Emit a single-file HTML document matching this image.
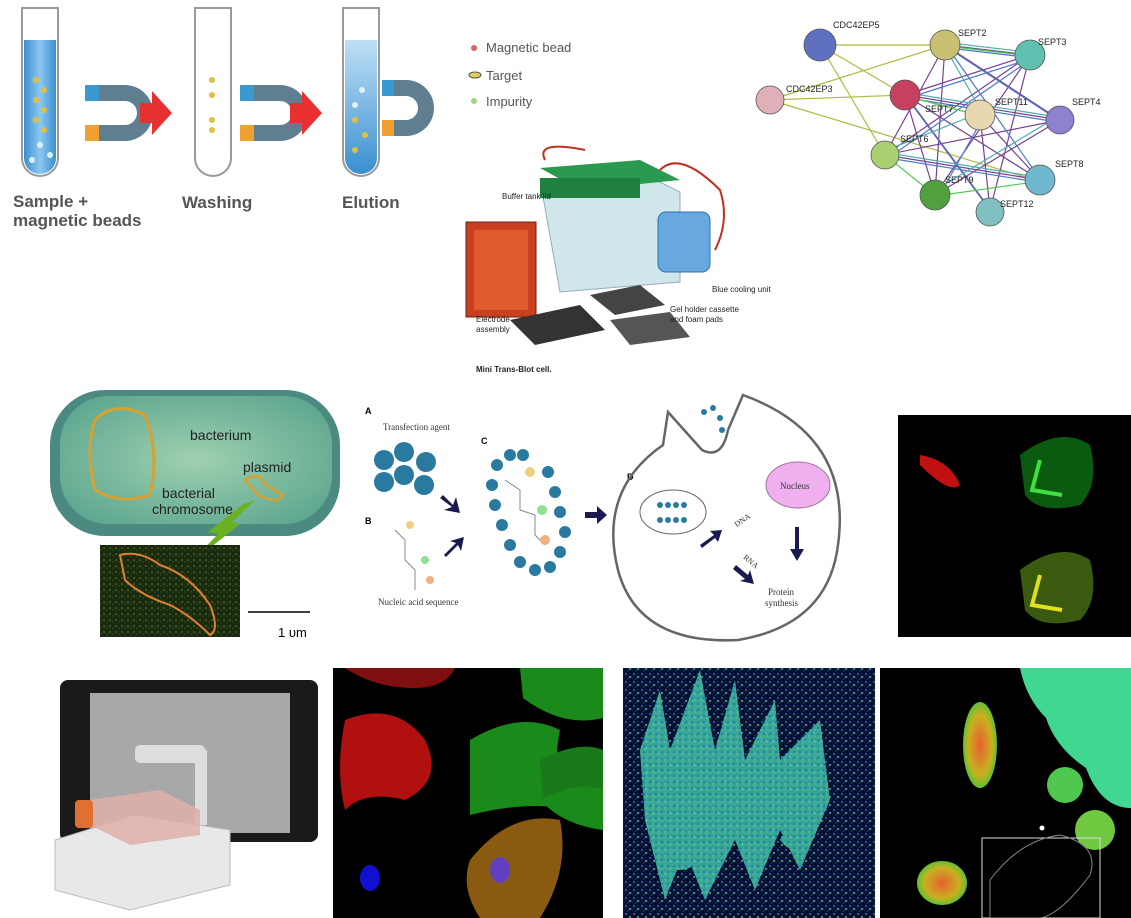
<!DOCTYPE html>
<html><head><meta charset="utf-8"><style>
html,body{margin:0;padding:0;background:#fff;}
svg{display:block;font-family:"Liberation Sans",sans-serif;}
</style></head><body>
<svg width="1131" height="918" viewBox="0 0 1131 918" xmlns="http://www.w3.org/2000/svg">
<defs>
<linearGradient id="tube" x1="0" x2="1"><stop offset="0" stop-color="#3a8fd0"/><stop offset="0.5" stop-color="#8cc8f0"/><stop offset="1" stop-color="#3a8fd0"/></linearGradient>
<linearGradient id="tube2" x1="0" x2="0" y1="0" y2="1"><stop offset="0" stop-color="#bfe0f5"/><stop offset="1" stop-color="#3a8fd0"/></linearGradient>
<radialGradient id="bact" cx="0.5" cy="0.5" r="0.6"><stop offset="0" stop-color="#9fd0b0"/><stop offset="1" stop-color="#5fa890"/></radialGradient>
<radialGradient id="rg" cx="0.5" cy="0.5" r="0.5"><stop offset="0" stop-color="#e86030"/><stop offset="0.7" stop-color="#c8b020"/><stop offset="1" stop-color="#60c030"/></radialGradient>
<pattern id="noise" width="6" height="6" patternUnits="userSpaceOnUse"><rect width="6" height="6" fill="#1a2a10"/><circle cx="2" cy="2" r="0.8" fill="#6a8a20"/><circle cx="5" cy="4" r="0.6" fill="#4a6a18"/></pattern>
<pattern id="heat" width="8" height="8" patternUnits="userSpaceOnUse"><rect width="8" height="8" fill="#0a1030"/><circle cx="2" cy="2" r="1" fill="#2070d0"/><circle cx="6" cy="5" r="1" fill="#40c0a0"/><circle cx="4" cy="7" r="0.7" fill="#2040a0"/></pattern>
<pattern id="heat2" width="6" height="6" patternUnits="userSpaceOnUse"><rect width="6" height="6" fill="#40c0a8"/><circle cx="2" cy="2" r="1" fill="#2080d0"/><circle cx="5" cy="4" r="0.8" fill="#90e070"/></pattern>
</defs>

<!-- Magnetic beads panel -->
<g>
 <path d="M22 8 h36 v150 a18 18 0 0 1 -36 0z" fill="#fff" stroke="#999" stroke-width="2"/>
 <path d="M24 40 h32 v118 a16 16 0 0 1 -32 0z" fill="url(#tube)"/>
 <path d="M195 8 h36 v150 a18 18 0 0 1 -36 0z" fill="#fff" stroke="#999" stroke-width="2"/>
 <path d="M343 8 h36 v150 a18 18 0 0 1 -36 0z" fill="#fff" stroke="#999" stroke-width="2"/>
 <path d="M345 40 h32 v118 a16 16 0 0 1 -32 0z" fill="url(#tube2)"/>
 <g fill="#5f7f90"><path d="M85 85 h40 a28 28 0 0 1 0 56 h-40 v-16 h40 a12 12 0 0 0 0 -24 h-40z"/></g>
 <rect x="85" y="85" width="14" height="16" fill="#3a9ad0"/><rect x="85" y="125" width="14" height="16" fill="#f0a030"/>
 <path d="M140 103 h12 v-12 l20 22 l-20 22 v-12 h-12z" fill="#e83030"/>
 <g fill="#5f7f90"><path d="M240 85 h40 a28 28 0 0 1 0 56 h-40 v-16 h40 a12 12 0 0 0 0 -24 h-40z"/></g>
 <rect x="240" y="85" width="14" height="16" fill="#3a9ad0"/><rect x="240" y="125" width="14" height="16" fill="#f0a030"/>
 <path d="M290 103 h12 v-12 l20 22 l-20 22 v-12 h-12z" fill="#e83030"/>
 <g fill="#5f7f90"><path d="M382 80 h24 a28 28 0 0 1 0 56 h-24 v-16 h24 a12 12 0 0 0 0 -24 h-24z"/></g>
 <rect x="382" y="80" width="12" height="16" fill="#3a9ad0"/><rect x="382" y="120" width="12" height="16" fill="#f0a030"/>
 <g fill="#e0c040"><circle cx="36" cy="80" r="3"/><circle cx="44" cy="90" r="3"/><circle cx="36" cy="100" r="3"/><circle cx="44" cy="110" r="3"/><circle cx="36" cy="120" r="3"/><circle cx="44" cy="130" r="3"/>
 <circle cx="212" cy="80" r="3"/><circle cx="212" cy="95" r="3"/><circle cx="212" cy="120" r="3"/><circle cx="212" cy="130" r="3"/>
 <circle cx="355" cy="120" r="3"/><circle cx="365" cy="135" r="3"/><circle cx="355" cy="150" r="3"/></g>
 <g fill="#e0f0f8"><circle cx="40" cy="145" r="3"/><circle cx="50" cy="155" r="3"/><circle cx="32" cy="160" r="3"/><circle cx="362" cy="90" r="3"/><circle cx="355" cy="105" r="3"/></g>
 <text x="13" y="207" font-size="17" font-weight="bold" fill="#555">Sample +</text>
 <text x="13" y="226" font-size="17" font-weight="bold" fill="#555">magnetic beads</text>
 <text x="182" y="208" font-size="17" font-weight="bold" fill="#555">Washing</text>
 <text x="342" y="208" font-size="17" font-weight="bold" fill="#555">Elution</text>
 <circle cx="474" cy="48" r="3" fill="#e06060"/><text x="486" y="52" font-size="13" fill="#555">Magnetic bead</text>
 <ellipse cx="475" cy="75" rx="6" ry="3" fill="#e0d060" stroke="#555"/><text x="486" y="80" font-size="13" fill="#555">Target</text>
 <circle cx="474" cy="101" r="3" fill="#a0d080"/><text x="486" y="106" font-size="13" fill="#555">Impurity</text>
</g>

<!-- Protein network -->
<g stroke-width="1.2" fill="none" opacity="0.85">
 <g stroke="#a0b020"><path d="M820 45 L905 95 M820 45 L945 45 M770 100 L945 45 M770 100 L1035 180 M820 45 L885 155 M770 100 L905 95"/></g>
 <g stroke="#602080"><path d="M945 45 L1030 55 M945 45 L1060 120 M905 95 L1060 120 M905 95 L1040 180 M945 45 L935 195 M1030 55 L990 210 M980 115 L1040 180 M885 155 L1030 55 M885 155 L1060 120 M935 195 L1030 55 M905 95 L990 210 M905 95 L1030 55 M885 155 L1040 180 M935 195 L1060 120 M945 45 L885 155 M980 115 L990 210 M905 95 L935 195"/></g>
 <g stroke="#3060c0"><path d="M948 48 L1033 58 M948 48 L1063 123 M908 98 L1063 123 M888 158 L1043 183 M938 198 L983 118 M908 98 L993 213 M908 98 L1033 58 M888 158 L1033 58 M948 48 L1043 183"/></g>
 <g stroke="#30a0a0"><path d="M942 42 L1027 52 M902 92 L1057 117 M882 152 L1037 177 M932 192 L1057 117 M942 42 L982 112 M882 152 L982 112"/></g>
 <g stroke="#30c030"><path d="M946 46 L1031 56 M906 96 L981 116 M886 156 L936 196 M936 196 L1041 181"/></g>
</g>
<g stroke="#555" stroke-width="0.8">
 <circle cx="820" cy="45" r="16" fill="#6070c0"/><circle cx="770" cy="100" r="14" fill="#e0b0b8"/>
 <circle cx="945" cy="45" r="15" fill="#c8c070"/><circle cx="1030" cy="55" r="15" fill="#60c0b0"/>
 <circle cx="905" cy="95" r="15" fill="#c84060"/><circle cx="980" cy="115" r="15" fill="#e8d8b0"/>
 <circle cx="1060" cy="120" r="14" fill="#9080d0"/><circle cx="885" cy="155" r="14" fill="#a8d070"/>
 <circle cx="935" cy="195" r="15" fill="#50a040"/><circle cx="1040" cy="180" r="15" fill="#70b8d0"/>
 <circle cx="990" cy="212" r="14" fill="#80c0c0"/>
</g>
<g font-size="9" fill="#222">
 <text x="833" y="28">CDC42EP5</text><text x="786" y="92">CDC42EP3</text><text x="958" y="36">SEPT2</text>
 <text x="1038" y="45">SEPT3</text><text x="925" y="112">SEPT7</text><text x="995" y="105">SEPT11</text>
 <text x="1072" y="105">SEPT4</text><text x="900" y="142">SEPT6</text><text x="945" y="183">SEPT9</text>
 <text x="1055" y="167">SEPT8</text><text x="1000" y="207">SEPT12</text>
</g>

<!-- Blot cell -->
<g>
 <path d="M540 180 l100 -8 l40 20 l0 90 l-120 10z" fill="#cfe6ea" stroke="#9ab" />
 <path d="M540 168 l100 -8 l40 20 l-100 10z" fill="#2a9a50"/>
 <rect x="540" y="178" width="100" height="20" fill="#1f8040"/>
 <rect x="466" y="222" width="70" height="95" fill="#c84020" stroke="#702010"/>
 <rect x="474" y="230" width="54" height="80" fill="#e05a30"/>
 <rect x="658" y="212" width="52" height="60" rx="8" fill="#68a8e0" stroke="#3070b0"/>
 <path d="M510 320 l70 -15 l25 25 l-70 15z" fill="#333"/>
 <path d="M590 295 l50 -10 l25 20 l-50 10z" fill="#444"/>
 <path d="M610 320 l60 -8 l20 25 l-60 8z" fill="#555"/>
 <path d="M545 160 q-10 -20 40 -10 M660 170 q20 -20 60 20 q10 30 -5 60" stroke="#c03020" stroke-width="2" fill="none"/>
 <g font-size="8" fill="#222"><text x="502" y="199">Buffer tank lid</text><text x="712" y="292">Blue cooling unit</text>
 <text x="670" y="312">Gel holder cassette</text><text x="670" y="322">and foam pads</text>
 <text x="476" y="322">Electrode</text><text x="476" y="332">assembly</text>
 <text x="476" y="372" font-weight="bold">Mini Trans-Blot cell.</text></g>
</g>

<!-- Bacterium -->
<g>
 <rect x="50" y="390" width="290" height="146" rx="55" fill="#4a8a80"/>
 <rect x="60" y="396" width="272" height="128" rx="48" fill="url(#bact)"/>
 <path d="M95 420 q20 -20 50 -5 q15 40 5 80 q-30 10 -55 -5 q-10 -40 0 -70z" fill="none" stroke="#d8a030" stroke-width="3"/>
 <path d="M245 480 q15 -10 20 5 q10 5 18 10 q-5 10 -25 0z" fill="none" stroke="#d8a030" stroke-width="2.5"/>
 <text x="190" y="440" font-size="14" fill="#222">bacterium</text>
 <text x="243" y="472" font-size="14" fill="#222">plasmid</text>
 <text x="162" y="498" font-size="14" fill="#222">bacterial</text>
 <text x="152" y="514" font-size="14" fill="#222">chromosome</text>
 <path d="M255 500 L232 522 L240 524 L185 568 L218 534 L208 532 L242 505z" fill="#6ab020"/>
 <rect x="100" y="545" width="140" height="92" fill="url(#noise)"/>
 <path d="M120 555 q20 -5 40 10 q30 10 50 40 q10 25 0 30 q-20 -20 -40 -30 q-30 -10 -45 -25z" fill="none" stroke="#e08030" stroke-width="2"/>
 <line x1="248" y1="612" x2="310" y2="612" stroke="#000" stroke-width="1.5"/>
 <text x="278" y="637" font-size="13" fill="#000">1 υm</text>
</g>

<!-- Transfection -->
<g font-family="Liberation Serif,serif">
 <text x="365" y="414" font-size="9" font-weight="bold" font-family="Liberation Sans">A</text>
 <text x="383" y="430" font-size="9" fill="#333">Transfection agent</text>
 <text x="365" y="524" font-size="9" font-weight="bold" font-family="Liberation Sans">B</text>
 <text x="378" y="605" font-size="9" fill="#333">Nucleic acid sequence</text>
 <text x="481" y="444" font-size="9" font-weight="bold" font-family="Liberation Sans">C</text>
 <text x="627" y="480" font-size="9" font-weight="bold" font-family="Liberation Sans">D</text>
 <g fill="#2a7aa0"><circle cx="384" cy="460" r="10"/><circle cx="404" cy="452" r="10"/><circle cx="426" cy="462" r="10"/><circle cx="384" cy="482" r="10"/><circle cx="404" cy="475" r="10"/><circle cx="424" cy="485" r="10"/></g>
 <g fill="#2a7aa0">
  <circle cx="497" cy="465" r="6"/><circle cx="510" cy="455" r="6"/><circle cx="523" cy="455" r="6"/><circle cx="492" cy="485" r="6"/><circle cx="495" cy="505" r="6"/><circle cx="502" cy="525" r="6"/><circle cx="510" cy="545" r="6"/><circle cx="520" cy="562" r="6"/><circle cx="535" cy="570" r="6"/><circle cx="550" cy="567" r="6"/><circle cx="560" cy="552" r="6"/><circle cx="565" cy="532" r="6"/><circle cx="560" cy="512" r="6"/><circle cx="555" cy="492" r="6"/><circle cx="548" cy="472" r="6"/>
 </g>
 <g stroke="#888" fill="none"><path d="M505 480 l15 10 l0 20 l15 5 l0 20 l10 10 M395 530 l10 10 l0 20 l10 10 l0 20"/></g>
 <g fill="#f0d080"><circle cx="530" cy="472" r="5"/><circle cx="410" cy="525" r="4"/></g>
 <g fill="#90e090"><circle cx="542" cy="510" r="5"/><circle cx="425" cy="560" r="4"/></g>
 <g fill="#f0b080"><circle cx="545" cy="540" r="5"/><circle cx="430" cy="580" r="4"/></g>
 <g fill="#1a1a50"><path d="M443 495 l10 10 l3 -8 l4 16 l-16 -3 l8 -3 l-12 -9z"/><path d="M444 555 l12 -12 l-6 -2 l14 -4 l-3 14 l-3 -6 l-12 12z"/>
 <path d="M585 512 h12 v-6 l10 9 l-10 9 v-6 h-12z"/>
 <path d="M700 545 l14 -10 l-4 -4 l12 -1 l-4 12 l-3 -4 l-13 10z"/><path d="M736 565 l12 10 l2 -5 l4 14 l-14 -3 l5 -2 l-12 -10z"/>
 <path d="M795 527 v22 h-5 l7 12 l7 -12 h-5 v-22z"/></g>
 <path d="M668 412 l34 38 q20 10 26 -20 l15 -35 q110 40 95 150 q-10 80 -100 95 q-100 5 -120 -70 q-20 -80 45 -125z" fill="none" stroke="#666" stroke-width="2.5"/>
 <ellipse cx="673" cy="512" rx="33" ry="22" fill="none" stroke="#666"/>
 <g fill="#2a7aa0"><circle cx="660" cy="505" r="3"/><circle cx="668" cy="505" r="3"/><circle cx="676" cy="505" r="3"/><circle cx="684" cy="505" r="3"/><circle cx="660" cy="520" r="3"/><circle cx="668" cy="520" r="3"/><circle cx="676" cy="520" r="3"/><circle cx="684" cy="520" r="3"/><circle cx="713" cy="408" r="3"/><circle cx="720" cy="418" r="3"/><circle cx="722" cy="430" r="3"/><circle cx="704" cy="412" r="3"/></g>
 <ellipse cx="798" cy="485" rx="32" ry="23" fill="#f0b0f0" stroke="#a070a0"/>
 <text x="780" y="489" font-size="9" fill="#333">Nucleus</text>
 <text x="736" y="525" font-size="8" fill="#333" transform="rotate(-35 740 525)">DNA</text>
 <text x="742" y="560" font-size="8" fill="#333" transform="rotate(40 745 560)">RNA</text>
 <text x="768" y="595" font-size="9" fill="#333">Protein</text><text x="765" y="606" font-size="9" fill="#333">synthesis</text>
</g>

<!-- Fluor top-right -->
<rect x="898" y="415" width="233" height="222" fill="#000"/>
<path d="M920 455 q30 5 40 30 q-10 10 -40 -20z" fill="#c01010"/>
<path d="M1020 455 q40 -30 70 -10 q10 40 -10 60 q-40 10 -55 -10z" fill="#0a5a10"/>
<path d="M1040 460 l-8 30 l30 5" stroke="#40e040" stroke-width="4" fill="none"/>
<path d="M1020 570 q40 -30 70 -10 q10 40 -10 60 q-40 10 -55 -10z" fill="#3a5a10"/>
<path d="M1040 575 l-8 30 l30 5" stroke="#e0e020" stroke-width="4" fill="none"/>

<!-- Lonza device -->
<g>
 <rect x="60" y="680" width="258" height="162" rx="8" fill="#1a1a1a"/>
 <rect x="90" y="693" width="200" height="140" fill="#a8a8a8"/>
 <rect x="135" y="745" width="70" height="18" rx="5" fill="#ddd"/>
 <rect x="195" y="750" width="12" height="75" fill="#ddd"/>
 <path d="M55 840 l80 -25 l95 15 v55 l-100 25 l-75 -20z" fill="#e8e8e8" stroke="#bbb"/>
 <path d="M90 800 l70 -10 l40 20 l0 25 l-70 10 l-40 -20z" fill="#e0b0a8" opacity="0.85"/>
 <rect x="75" y="800" width="18" height="28" rx="4" fill="#e07030"/>
</g>

<!-- Fluor bottom 1 -->
<rect x="333" y="668" width="270" height="250" fill="#000"/>
<path d="M345 720 q50 -20 80 20 q20 40 -20 60 q-40 -10 -60 10 q-10 -40 0 -90z" fill="#b01010"/>
<path d="M345 668 h110 q-10 20 -40 20 q-40 0 -70 -20z" fill="#801010"/>
<path d="M470 740 q50 -30 90 -10 q-10 50 10 80 q-40 -10 -100 5z" fill="#1a8a1a"/>
<path d="M520 668 h83 v50 q-40 10 -80 -20z" fill="#1a8a1a"/>
<path d="M540 760 q40 -20 63 -10 v70 q-50 0 -60 -20z" fill="#1a7a1a"/>
<path d="M470 860 q40 -50 90 -40 q10 50 -20 98 h-60 q-20 -30 -10 -58z" fill="#8a5a10"/>
<path d="M540 800 q40 -20 63 -10 v40 q-40 -5 -63 -30z" fill="#1a8a1a"/>
<ellipse cx="370" cy="878" rx="10" ry="13" fill="#1010d0"/>
<ellipse cx="500" cy="870" rx="10" ry="13" fill="#6040c0"/>

<!-- Heatmap -->
<rect x="623" y="668" width="252" height="250" fill="url(#heat)"/>
<g fill="url(#heat2)" opacity="0.85">
 <path d="M640 750 l20 -60 l10 60 l30 -80 l15 80 l20 -70 l10 80 l30 -60 l5 60 l40 -40 l10 80 l-30 70 l-20 -40 l-25 60 l-20 -50 l-30 60 l-20 -50 l-20 50 l-20 -80z"/>
 <path d="M660 860 q20 -30 40 0 q-20 20 -40 0z"/><path d="M780 840 q20 -30 30 0 q-15 20 -30 0z"/>
</g>

<!-- Right panel -->
<rect x="880" y="668" width="251" height="250" fill="#000"/>
<ellipse cx="980" cy="745" rx="17" ry="43" fill="url(#rg)"/>
<ellipse cx="942" cy="883" rx="25" ry="22" fill="url(#rg)"/>
<path d="M1020 668 h111 v140 q-30 0 -45 -40 q-30 -20 -40 -50 q-20 -20 -26 -50z" fill="#40d890"/>
<circle cx="1065" cy="785" r="18" fill="#50c850"/>
<circle cx="1095" cy="830" r="20" fill="#70c840"/>
<rect x="982" y="838" width="118" height="80" fill="none" stroke="#ddd" stroke-width="1"/>
<path d="M990 880 q30 -40 70 -45 q40 10 30 40 q-30 40 -50 43 h-50z" fill="none" stroke="#888"/>
<circle cx="1042" cy="828" r="2.5" fill="#fff"/>
</svg>
</body></html>
